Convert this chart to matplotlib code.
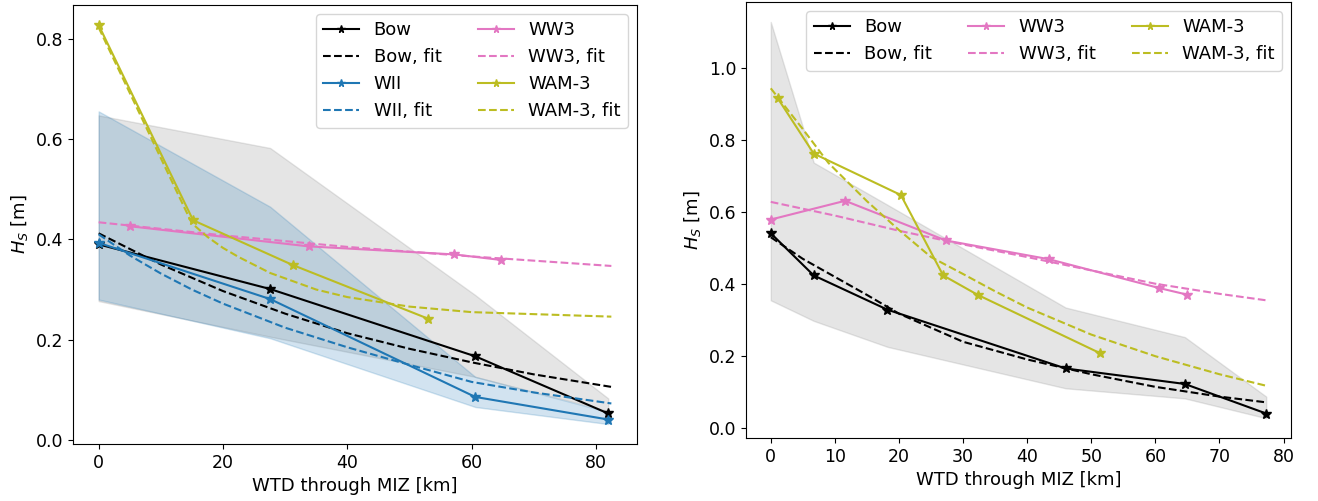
import matplotlib
matplotlib.use("Agg")
from matplotlib import pyplot as plt

# ---- left panel ----
bow_x_l = [0.0, 27.6, 60.6, 82.0]
bow_y_l = [0.390, 0.301, 0.167, 0.053]
bow_lo_l = [0.277, 0.206, 0.126, 0.058]
bow_hi_l = [0.647, 0.582, 0.289, 0.083]
bow_fit_x_l = [0, 10, 20, 30, 40, 50, 60, 70, 82.5]
bow_fit_y_l = [0.412, 0.350, 0.297, 0.252, 0.213, 0.182, 0.155, 0.131, 0.106]

wii_x = [0.0, 27.6, 60.6, 82.0]
wii_y = [0.393, 0.281, 0.086, 0.041]
wii_lo = [0.280, 0.203, 0.066, 0.032]
wii_hi = [0.655, 0.465, 0.126, 0.056]
wii_fit_x = [0, 5, 10, 15, 20, 30, 40, 50, 60, 70, 82.5]
wii_fit_y = [0.410, 0.368, 0.332, 0.300, 0.272, 0.224, 0.185, 0.150, 0.116, 0.095, 0.073]

ww3_x_l = [5.1, 33.8, 57.2, 64.7]
ww3_y_l = [0.426, 0.386, 0.370, 0.359]
ww3_fit_x_l = [0, 20, 40, 60, 82.5]
ww3_fit_y_l = [0.434, 0.408, 0.385, 0.366, 0.347]

wam_x_l = [0.0, 15.2, 31.2, 53.0]
wam_y_l = [0.827, 0.438, 0.349, 0.242]
wam_fit_x_l = [0, 15, 17.5, 20, 22.5, 27.6, 35, 40, 50, 60, 82.5]
wam_fit_y_l = [0.822, 0.432, 0.405, 0.383, 0.365, 0.333, 0.300, 0.285, 0.266, 0.255, 0.246]

# ---- right panel ----
bow_x_r = [0.0, 6.7, 18.2, 46.0, 64.6, 77.3]
bow_y_r = [0.541, 0.424, 0.329, 0.166, 0.123, 0.041]
bow_lo_r = [0.355, 0.298, 0.226, 0.111, 0.083, 0.028]
bow_hi_r = [1.127, 0.737, 0.620, 0.335, 0.253, 0.088]
bow_fit_x_r = [0, 5, 10, 15, 20, 30, 40, 50, 60, 70, 77.3]
bow_fit_y_r = [0.530, 0.470, 0.420, 0.370, 0.318, 0.240, 0.191, 0.150, 0.115, 0.088, 0.072]

ww3_x_r = [0.0, 11.6, 27.3, 43.4, 60.6, 64.9]
ww3_y_r = [0.579, 0.631, 0.521, 0.469, 0.389, 0.371]
ww3_fit_x_r = [0, 10, 20, 30, 40, 50, 60, 70, 77.3]
ww3_fit_y_r = [0.628, 0.590, 0.548, 0.510, 0.475, 0.438, 0.401, 0.373, 0.355]

wam_x_r = [1.1, 6.7, 20.3, 26.9, 32.3, 51.3]
wam_y_r = [0.915, 0.762, 0.647, 0.424, 0.370, 0.209]
wam_fit_x_r = [0, 5, 9, 15, 20, 25, 30, 35, 40, 50, 60, 70, 77.3]
wam_fit_y_r = [0.943, 0.830, 0.736, 0.630, 0.550, 0.475, 0.428, 0.380, 0.335, 0.260, 0.200, 0.150, 0.118]

plt.rcParams["font.size"] = 13
plt.rcParams["xtick.labelsize"] = 12.5
plt.rcParams["ytick.labelsize"] = 12.5

fig = plt.figure(figsize=(13.18, 5.01), dpi=100, facecolor="white")
ax1 = fig.add_axes([0.0554, 0.1138, 0.4279, 0.876])
ax2 = fig.add_axes([0.566, 0.1257, 0.4135, 0.870])

pink = "#e377c2"
olive = "#bcbd22"
blue = "#1f77b4"
ms = 7

# left
ax1.fill_between(bow_x_l, bow_lo_l, bow_hi_l, color="gray", alpha=0.2)
ax1.fill_between(wii_x, wii_lo, wii_hi, color=blue, alpha=0.2)
ax1.plot(bow_x_l, bow_y_l, "-*", color="k", ms=ms, label="Bow")
ax1.plot(bow_fit_x_l, bow_fit_y_l, "--", color="k", label="Bow, fit")
ax1.plot(wii_x, wii_y, "-*", color=blue, ms=ms, label="WII")
ax1.plot(wii_fit_x, wii_fit_y, "--", color=blue, label="WII, fit")
ax1.plot(ww3_x_l, ww3_y_l, "-*", color=pink, ms=ms, label="WW3")
ax1.plot(ww3_fit_x_l, ww3_fit_y_l, "--", color=pink, label="WW3, fit")
ax1.plot(wam_x_l, wam_y_l, "-*", color=olive, ms=ms, label="WAM-3")
ax1.plot(wam_fit_x_l, wam_fit_y_l, "--", color=olive, label="WAM-3, fit")
ax1.set_xticks([0, 20, 40, 60, 80])
ax1.set_yticks([0.0, 0.2, 0.4, 0.6, 0.8])
ax1.set_xlabel("WTD through MIZ [km]")
ax1.set_ylabel(r"$H_S$ [m]")
ax1.legend(ncol=2, loc="upper right", markerscale=0.8)

# right
ax2.fill_between(bow_x_r, bow_lo_r, bow_hi_r, color="gray", alpha=0.2)
ax2.plot(bow_x_r, bow_y_r, "-*", color="k", ms=ms, label="Bow")
ax2.plot(bow_fit_x_r, bow_fit_y_r, "--", color="k", label="Bow, fit")
ax2.plot(ww3_x_r, ww3_y_r, "-*", color=pink, ms=ms, label="WW3")
ax2.plot(ww3_fit_x_r, ww3_fit_y_r, "--", color=pink, label="WW3, fit")
ax2.plot(wam_x_r, wam_y_r, "-*", color=olive, ms=ms, label="WAM-3")
ax2.plot(wam_fit_x_r, wam_fit_y_r, "--", color=olive, label="WAM-3, fit")
ax2.set_xticks([0, 10, 20, 30, 40, 50, 60, 70, 80])
ax2.set_yticks([0.0, 0.2, 0.4, 0.6, 0.8, 1.0])
ax2.set_xlabel("WTD through MIZ [km]")
ax2.set_ylabel(r"$H_S$ [m]")
ax2.legend(ncol=3, loc="upper right", markerscale=0.8)

plt.savefig("out.png", dpi=100)
